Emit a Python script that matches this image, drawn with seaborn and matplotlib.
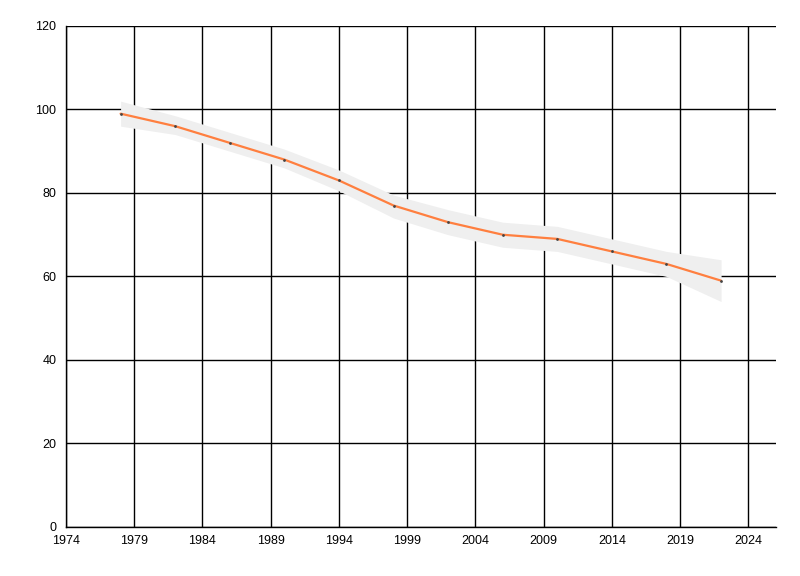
import pandas as pd
import matplotlib
matplotlib.use('Agg')
import matplotlib.pyplot as plt
import seaborn as sns

# Dane
years = [1978, 1982, 1986, 1990, 1994, 1998, 2002, 2006, 2010, 2014, 2018, 2022]
values = [99, 96, 92, 88, 83, 77, 73, 70, 69, 66, 63, 59]
upper = [102, 98.5, 94.5, 90.5, 85.5, 79.5, 76, 73, 72, 69, 66, 64]
lower = [96, 94, 90, 86, 80.5, 74, 70, 67, 66, 63, 60, 54]

x_ticks = list(range(1974, 2025, 5))
y_ticks = list(range(0, 121, 20))

df = pd.DataFrame({'Year': years, 'Value': values, 'Upper': upper, 'Lower': lower})

sns.set_style('white')
plt.rcParams['font.family'] = ['Liberation Sans', 'DejaVu Sans']

fig = plt.figure(figsize=(8, 5.76), dpi=100)
ax = fig.add_axes([0.0825, 0.0851, 0.8871, 0.8698])

ax.fill_between(df['Year'], df['Lower'], df['Upper'], color='#efefef', linewidth=0, zorder=2)
sns.lineplot(data=df, x='Year', y='Value', ax=ax, color='#ff7f3f', linewidth=1.6,
             marker='o', markersize=2, markerfacecolor='#444444', markeredgewidth=0, zorder=3)

ax.set_xlim(1974, 2026)
ax.set_ylim(0, 120)
ax.set_xticks(x_ticks)
ax.set_yticks(y_ticks)
ax.grid(True, color='black', linewidth=1)
ax.set_axisbelow(True)
for s in ['top', 'right']:
    ax.spines[s].set_visible(False)
for s in ['left', 'bottom']:
    ax.spines[s].set_color('black')
    ax.spines[s].set_linewidth(1)
ax.tick_params(axis='y', length=5, width=1, color='black', labelcolor='black', labelsize=9, pad=2)
ax.tick_params(axis='x', length=0, labelcolor='black', labelsize=9, pad=5.5)
ax.set_xlabel('')
ax.set_ylabel('')

plt.savefig('out.png', dpi=100)
